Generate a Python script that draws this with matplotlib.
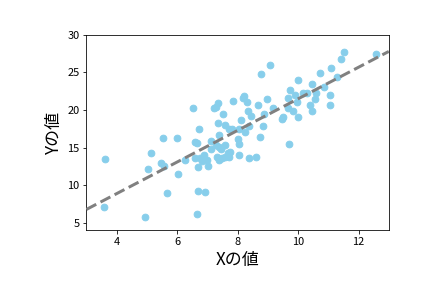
import numpy as np
import matplotlib
matplotlib.use('Agg')
import matplotlib.pyplot as plt

plt.rcParams['font.family'] = ['Noto Sans CJK JP', 'DejaVu Sans']

# values
x_vals = [3.63, 3.59, 4.95, 5.67, 6.70, 6.93, 6.66, 5.54, 6.00, 5.15,
          5.05, 5.48, 5.57, 6.04, 6.27, 6.53, 6.73, 6.60, 6.66, 6.60,
          6.70, 6.76, 6.83, 6.89, 7.03, 6.99, 7.13, 7.13, 7.22, 7.29,
          7.36, 7.85, 7.52, 7.36, 7.59, 7.39, 7.72, 7.29, 7.39, 7.46,
          7.32, 7.39, 7.49, 7.59, 7.72, 7.69, 8.05, 8.18, 8.21, 8.31,
          8.78, 9.07, 8.68, 8.97, 8.35, 8.45, 8.87, 9.17, 8.12, 8.38,
          8.05, 7.82, 8.25, 8.84, 8.02, 8.05, 8.74, 7.75, 8.38, 8.61,
          9.70, 9.47, 9.50, 9.67, 9.73, 9.67, 9.83, 10.00, 9.90, 10.00,
          9.96, 10.16, 10.29, 10.46, 10.39, 10.46, 10.56, 10.59, 10.72, 10.85,
          11.09, 11.05, 11.05, 11.28, 11.42, 11.51, 12.57, 7.46, 7.59]
y_vals = [13.5, 7.1, 5.8, 9.0, 9.2, 9.1, 6.2, 16.3, 16.3, 14.3,
          12.2, 13.0, 12.6, 11.5, 13.4, 20.3, 17.5, 15.8, 15.6, 13.6,
          12.4, 13.6, 13.2, 14.0, 12.6, 13.4, 15.9, 14.8, 20.2, 20.4,
          20.9, 21.2, 19.4, 18.3, 18.0, 16.7, 17.4, 15.4, 15.1, 15.0,
          13.8, 13.4, 13.6, 13.8, 13.8, 14.3, 14.0, 21.6, 21.8, 21.0,
          24.7, 26.0, 20.7, 21.5, 19.8, 19.2, 19.5, 20.3, 18.7, 17.9,
          17.5, 17.4, 17.0, 17.8, 16.2, 15.5, 16.4, 14.4, 13.6, 13.8,
          15.5, 18.8, 19.1, 21.6, 22.7, 20.3, 19.9, 19.1, 22.0, 24.0,
          21.1, 22.2, 22.3, 23.5, 20.7, 19.9, 21.4, 22.3, 24.9, 23.1,
          25.6, 22.0, 20.7, 24.3, 26.8, 27.7, 27.4, 14.8, 15.3]
x_range = [3, 13]

x = np.array(x_vals)
y = np.array(y_vals)
slope, intercept = np.polyfit(x, y, 1)

fig = plt.figure(figsize=(6, 4), dpi=72)
ax = fig.add_subplot(111)
fig.subplots_adjust(left=0.2, bottom=0.2, right=0.9, top=0.88)

ax.scatter(x, y, color='skyblue', s=45, zorder=2)
xs = np.array(x_range)
ax.plot(xs, slope * xs + intercept, color='gray', linestyle='--', linewidth=3, zorder=3)

ax.set_xlim(x_range)
ax.set_ylim(4, 30)
ax.tick_params(labelsize=11)
ax.set_xlabel('Xの値', fontsize=17)
ax.set_ylabel('Yの値', fontsize=17)

plt.savefig('out.png', dpi=72)
